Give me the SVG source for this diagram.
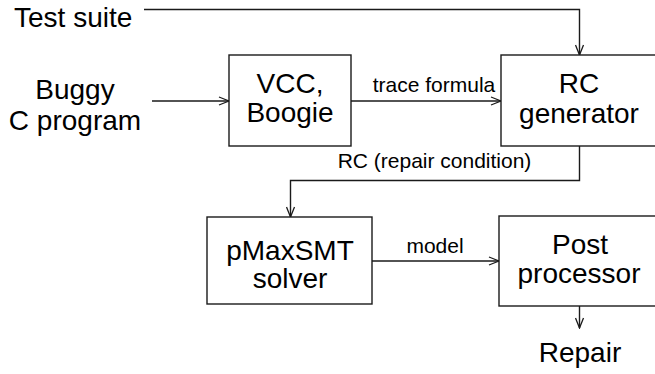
<svg xmlns="http://www.w3.org/2000/svg" width="655" height="374" viewBox="0 0 655 374">
  <style>
    .box { fill: #fff; stroke: #1a1a1a; stroke-width: 1.4; }
    .big { font-family: "Liberation Sans", Arial, sans-serif; font-size: 28px; fill: #000; text-anchor: middle; }
    .lbl { font-family: "Liberation Sans", Arial, sans-serif; font-size: 21px; fill: #000; text-anchor: middle; }
    .edge { fill: none; stroke: #1a1a1a; stroke-width: 1.4; marker-end: url(#arr); }
  </style>
  <defs>
    <marker id="arr" viewBox="0 0 12 10" refX="11" refY="5" markerWidth="12" markerHeight="10" markerUnits="userSpaceOnUse" orient="auto">
      <path d="M1,1 L11,5 L1,9" fill="none" stroke="#1a1a1a" stroke-width="1.3"/>
    </marker>
  </defs>
  <rect width="655" height="374" fill="#fff"/>

  <g id="connectors">
    <path class="edge" d="M144,9.5 H579.5 V55"/>
    <path class="edge" d="M152,101 H229"/>
    <path class="edge" d="M351,101 H501"/>
    <path class="edge" d="M579.5,146 V180.5 H290.5 V217"/>
    <path class="edge" d="M372,261 H499"/>
    <path class="edge" d="M579.5,306 V328"/>
    <text class="lbl" x="434" y="92">trace formula</text>
    <text class="lbl" x="434.5" y="168">RC (repair condition)</text>
    <text class="lbl" x="435" y="253">model</text>
  </g>

  <g id="test-suite">
    <text class="big" x="14" y="27" style="text-anchor:start">Test suite</text>
  </g>

  <g id="buggy-program">
    <text class="big" x="75" y="99">Buggy</text>
    <text class="big" x="75" y="130">C program</text>
  </g>

  <g id="vcc-boogie">
    <rect class="box" x="229" y="55" width="122" height="91"/>
    <text class="big" x="290" y="93">VCC,</text>
    <text class="big" x="290" y="122">Boogie</text>
  </g>

  <g id="rc-generator">
    <rect class="box" x="501" y="55" width="165" height="91"/>
    <text class="big" x="579" y="93">RC</text>
    <text class="big" x="579" y="123">generator</text>
  </g>

  <g id="pmaxsmt-solver">
    <rect class="box" x="207" y="217" width="165" height="87"/>
    <text class="big" x="290" y="260">pMaxSMT</text>
    <text class="big" x="290" y="288">solver</text>
  </g>

  <g id="post-processor">
    <rect class="box" x="499" y="216" width="167" height="90"/>
    <text class="big" x="580" y="254">Post</text>
    <text class="big" x="579" y="283">processor</text>
  </g>

  <g id="repair">
    <text class="big" x="580" y="362">Repair</text>
  </g>
</svg>
